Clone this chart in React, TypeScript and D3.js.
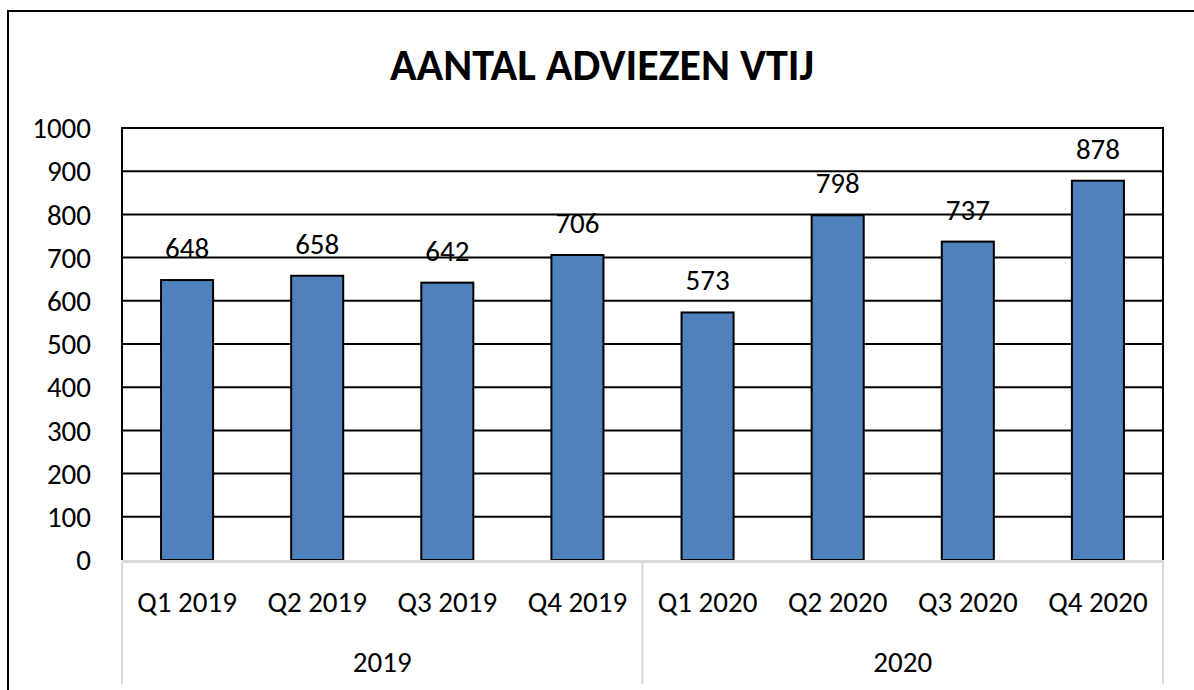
import React from "react";
import * as d3 from "d3";

const categories = ["Q1 2019", "Q2 2019", "Q3 2019", "Q4 2019", "Q1 2020", "Q2 2020", "Q3 2020", "Q4 2020"];
const values = [648, 658, 642, 706, 573, 798, 737, 878];
const groups = [
  { label: "2019", start: 0, end: 4 },
  { label: "2020", start: 4, end: 8 },
];
const yTicks = [0, 100, 200, 300, 400, 500, 600, 700, 800, 900, 1000];
const title = "AANTAL ADVIEZEN VTIJ";

const W = 1194;
const H = 690;
const plot = { left: 122, right: 1163, top: 128, bottom: 560 };
const FONT = "Carlito, Calibri, Lato, sans-serif";
const FS = 29;

export default function App() {
  const x = d3.scaleBand<string>().domain(categories).range([plot.left, plot.right]).paddingInner(0).paddingOuter(0);
  const y = d3.scaleLinear().domain([0, 1000]).range([plot.bottom, plot.top]);
  const bw = x.bandwidth() * 0.4;
  const step = x.step();

  return (
    <svg width={W} height={H} style={{ position: "absolute", left: 0, top: 0, background: "#fff" }}>
      <rect x={0} y={0} width={W} height={H} fill="#fff" />
      <rect x={8} y={11} width={1200} height={700} fill="none" stroke="#000" strokeWidth={2} />
      <text x={602} y={80} textAnchor="middle" fontFamily={FONT} fontWeight="bold" fontSize={44} fill="#000">
        {title}
      </text>
      {yTicks.map((t) => (
        <g key={t}>
          {t > 0 && (
            <line x1={plot.left} x2={plot.right} y1={y(t)} y2={y(t)} stroke="#000" strokeWidth={2} />
          )}
          <text x={91} y={y(t)} dy="0.35em" textAnchor="end" fontFamily={FONT} fontSize={FS} fill="#000">
            {t}
          </text>
        </g>
      ))}
      <line x1={plot.left} x2={plot.left} y1={plot.top - 1} y2={plot.bottom} stroke="#000" strokeWidth={2} />
      <line x1={plot.right} x2={plot.right} y1={plot.top - 1} y2={plot.bottom} stroke="#000" strokeWidth={2} />
      {categories.map((c, i) => {
        const cx = (x(c) as number) + step / 2;
        const v = values[i];
        return (
          <g key={c}>
            <rect x={cx - bw / 2} y={y(v)} width={bw} height={plot.bottom - y(v)} fill="#4f81bd" stroke="#000" strokeWidth={2} />
            <text x={cx} y={y(v) - 22} textAnchor="middle" fontFamily={FONT} fontSize={FS} fill="#000">
              {v}
            </text>
            <text x={cx} y={612} textAnchor="middle" fontFamily={FONT} fontSize={FS} fill="#000">
              {c}
            </text>
          </g>
        );
      })}
      <line x1={plot.left} x2={plot.right + 1} y1={plot.bottom + 1.5} y2={plot.bottom + 1.5} stroke="#d9d9d9" strokeWidth={3} />
      {[0, 4, 8].map((k) => {
        const xx = plot.left + k * step;
        return <line key={k} x1={xx} x2={xx} y1={plot.bottom + 3} y2={684} stroke="#d9d9d9" strokeWidth={2} />;
      })}
      {groups.map((g) => {
        const cx = plot.left + ((g.start + g.end) / 2) * step;
        return (
          <text key={g.label} x={cx} y={672} textAnchor="middle" fontFamily={FONT} fontSize={FS} fill="#000">
            {g.label}
          </text>
        );
      })}
    </svg>
  );
}
